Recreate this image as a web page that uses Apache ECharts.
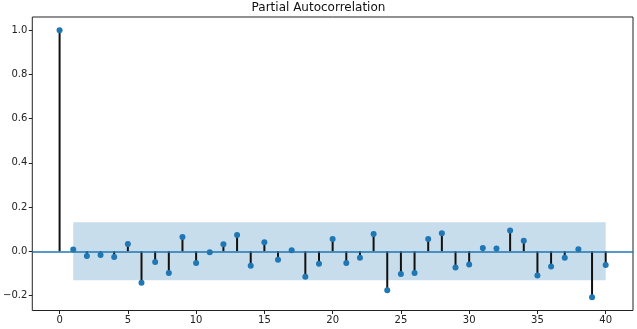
<!DOCTYPE html>
<html>
<head>
<meta charset="utf-8">
<script src="https://cdn.jsdelivr.net/npm/echarts@6/dist/echarts.min.js"></script>
<style>html,body{margin:0;padding:0;background:#fff}#c{width:637px;height:329px}</style>
</head>
<body>
<div id="c"></div>
<script>
var lags = [0,1,2,3,4,5,6,7,8,9,10,11,12,13,14,15,16,17,18,19,20,21,22,23,24,25,26,27,28,29,30,31,32,33,34,35,36,37,38,39,40];
var pacf = [1.0,0.008,-0.021,-0.017,-0.026,0.033,-0.143,-0.048,-0.098,0.065,-0.053,-0.005,0.032,0.074,-0.066,0.041,-0.038,0.005,-0.115,-0.057,0.056,-0.053,-0.029,0.078,-0.176,-0.103,-0.098,0.056,0.081,-0.074,-0.060,0.015,0.012,0.094,0.048,-0.110,-0.069,-0.029,0.009,-0.208,-0.062];
var confBand = 0.131;
var bandStart = 1, bandEnd = 40;
var xTicks = [0,5,10,15,20,25,30,35,40];
var yTicks = [-0.2,0.0,0.2,0.4,0.6,0.8,1.0];
var titleText = 'Partial Autocorrelation';

var font = 'DejaVu Sans';
var chart = echarts.init(document.getElementById('c'));
var pts = lags.map(function(l,i){return [l,pacf[i]];});
chart.setOption({
  animation:false,
  title:{text:titleText,left:'center',top:-3,textStyle:{fontFamily:font,fontSize:12,fontWeight:'normal',color:'#111'}},
  grid:{left:30,right:4,top:17,bottom:18.5,show:true,borderColor:'#222',borderWidth:1,backgroundColor:'transparent'},
  xAxis:{type:'value',min:-2,max:42,splitLine:{show:false},axisLine:{show:false,onZero:false},
    axisTick:{show:true,customValues:xTicks,length:3.5,inside:false,lineStyle:{color:'#222'}},
    axisLabel:{customValues:xTicks,fontFamily:font,fontSize:10,color:'#222',margin:5}},
  yAxis:{type:'value',min:-0.268,max:1.06,splitLine:{show:false},axisLine:{show:false,onZero:false},
    axisTick:{show:true,customValues:yTicks,length:3.5,inside:false,lineStyle:{color:'#222'}},
    axisLabel:{customValues:yTicks,fontFamily:font,fontSize:10,color:'#222',margin:5,
      formatter:function(v){return v.toFixed(1).replace('-','\u2212');}}},
  series:[
    {type:'custom',z:1,silent:true,data:[[bandStart,bandEnd,confBand]],
      renderItem:function(params,api){
        var p1=api.coord([api.value(0),api.value(2)]);
        var p2=api.coord([api.value(1),-api.value(2)]);
        return {type:'rect',shape:{x:p1[0],y:p1[1],width:p2[0]-p1[0],height:p2[1]-p1[1]},style:{fill:'rgba(31,119,180,0.25)'}};
      }},
    {type:'line',z:2,data:[],silent:true,
      markLine:{silent:true,symbol:'none',label:{show:false},lineStyle:{color:'#1f77b4',width:1.5,type:'solid'},data:[{yAxis:0}]}},
    {type:'custom',z:3,silent:true,data:pts,
      renderItem:function(params,api){
        var a=api.coord([api.value(0),0]);
        var b=api.coord([api.value(0),api.value(1)]);
        return {type:'line',shape:{x1:a[0],y1:a[1],x2:b[0],y2:b[1]},style:{stroke:'#111',lineWidth:2}};
      }},
    {type:'scatter',z:4,silent:true,data:pts,symbol:'circle',symbolSize:6,itemStyle:{color:'#1f77b4',opacity:1}}
  ]
});
</script>
</body>
</html>
